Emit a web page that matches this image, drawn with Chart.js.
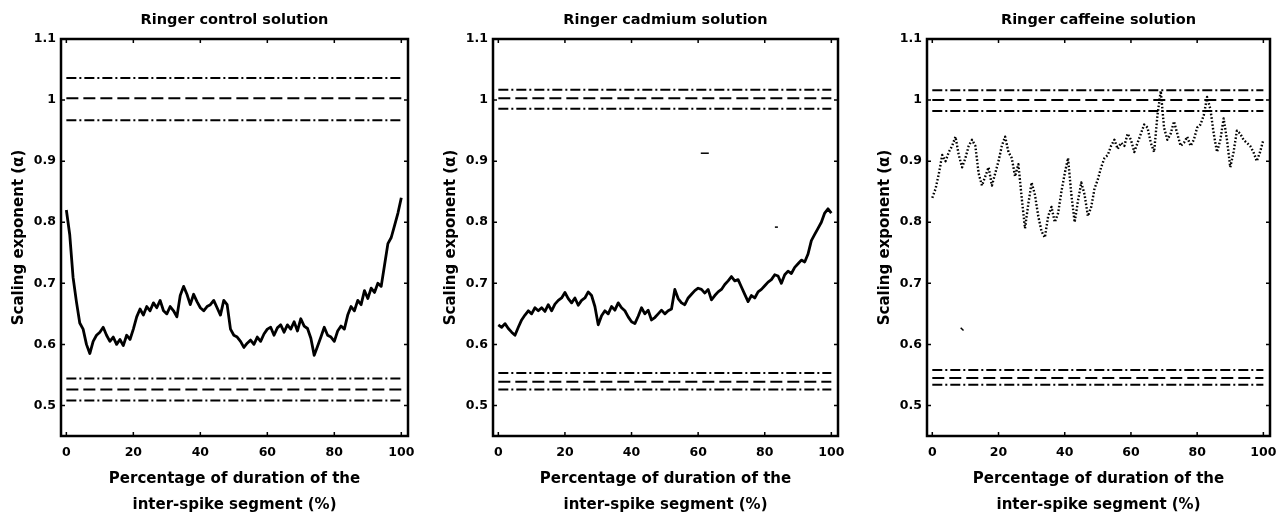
<!DOCTYPE html>
<html>
<head>
<meta charset="utf-8">
<title>Scaling exponent along the inter-spike segment</title>
<script src="https://cdn.jsdelivr.net/npm/chart.js@4.4.1/dist/chart.umd.min.js"></script>
<style>
  html, body { margin: 0; padding: 0; background: #fff; overflow: hidden; width: 1282px; height: 514px; }
  .panel { position: absolute; top: 0; }
</style>
</head>
<body>
<div class="panel" style="left:0px"><canvas id="c1" width="469" height="518"></canvas></div>
<div class="panel" style="left:432px"><canvas id="c2" width="467" height="518"></canvas></div>
<div class="panel" style="left:866px"><canvas id="c3" width="465" height="518"></canvas></div>
<script>
// axis ticks
var xTicks = [0, 20, 40, 60, 80, 100];
var yTicks = [0.5, 0.6, 0.7, 0.8, 0.9, 1.0, 1.1];
var yTickLabels = ['0.5', '0.6', '0.7', '0.8', '0.9', '1', '1.1'];

var titles = ['Ringer control solution', 'Ringer cadmium solution', 'Ringer caffeine solution'];
var xTitle = ['Percentage of duration of the', 'inter-spike segment (%)'];
var yTitle = 'Scaling exponent (\u03b1)';

// scaling exponent at 0,1,2,...,100 % of the segment
var controlAlpha = [
  0.82, 0.78, 0.71, 0.67, 0.635, 0.625, 0.60, 0.585, 0.605, 0.615,
  0.62, 0.628, 0.615, 0.605, 0.612, 0.60, 0.608, 0.598, 0.615, 0.608,
  0.625, 0.645, 0.658, 0.648, 0.662, 0.655, 0.668, 0.66, 0.672, 0.655,
  0.65, 0.662, 0.655, 0.645, 0.68, 0.695, 0.682, 0.665, 0.682, 0.67,
  0.66, 0.655, 0.662, 0.665, 0.672, 0.66, 0.648, 0.672, 0.665, 0.625,
  0.615, 0.612, 0.605, 0.595, 0.602, 0.607, 0.60, 0.612, 0.605, 0.617,
  0.625, 0.628, 0.615, 0.627, 0.632, 0.62, 0.632, 0.625, 0.637, 0.622,
  0.642, 0.63, 0.626, 0.61, 0.582, 0.597, 0.612, 0.628, 0.615, 0.612,
  0.605, 0.622, 0.63, 0.625, 0.648, 0.662, 0.655, 0.672, 0.665, 0.688,
  0.675, 0.692, 0.685, 0.70, 0.695, 0.73, 0.765, 0.775, 0.795, 0.815,
  0.84
];
var cadmiumAlpha = [
  0.632, 0.628, 0.634, 0.626, 0.62, 0.615, 0.628, 0.64, 0.648, 0.655,
  0.65, 0.66, 0.655, 0.66, 0.654, 0.665, 0.655, 0.666, 0.672, 0.676,
  0.685, 0.675, 0.668, 0.676, 0.664, 0.672, 0.676, 0.686, 0.68, 0.662,
  0.632, 0.647, 0.655, 0.65, 0.662, 0.656, 0.668, 0.66, 0.655, 0.645,
  0.637, 0.634, 0.646, 0.66, 0.65, 0.656, 0.64, 0.644, 0.65, 0.656,
  0.65, 0.655, 0.658, 0.69, 0.675, 0.668, 0.665, 0.676, 0.682, 0.688,
  0.692, 0.69, 0.684, 0.69, 0.673, 0.68, 0.686, 0.69, 0.698, 0.704,
  0.711, 0.704, 0.706, 0.694, 0.682, 0.67, 0.68, 0.676, 0.686, 0.69,
  0.696, 0.702, 0.706, 0.714, 0.712, 0.70, 0.714, 0.72, 0.716, 0.726,
  0.732, 0.738, 0.735, 0.748, 0.77, 0.78, 0.79, 0.80, 0.815, 0.822,
  0.815
];
var caffeineAlpha = [
  0.84, 0.855, 0.88, 0.91, 0.90, 0.915, 0.925, 0.94, 0.91, 0.89,
  0.905, 0.925, 0.935, 0.925, 0.88, 0.86, 0.875, 0.89, 0.86, 0.88,
  0.90, 0.925, 0.94, 0.915, 0.905, 0.875, 0.895, 0.84, 0.79, 0.83,
  0.865, 0.845, 0.81, 0.785, 0.775, 0.81, 0.825, 0.80, 0.815, 0.85,
  0.88, 0.905, 0.845, 0.80, 0.835, 0.865, 0.845, 0.81, 0.825, 0.855,
  0.87, 0.89, 0.905, 0.91, 0.925, 0.935, 0.92, 0.93, 0.925, 0.945,
  0.935, 0.915, 0.93, 0.945, 0.96, 0.955, 0.93, 0.915, 0.975, 1.015,
  0.955, 0.935, 0.945, 0.965, 0.945, 0.925, 0.93, 0.94, 0.925, 0.935,
  0.955, 0.96, 0.975, 1.005, 0.985, 0.945, 0.915, 0.935, 0.97, 0.935,
  0.89, 0.915, 0.95, 0.945, 0.935, 0.93, 0.925, 0.915, 0.90, 0.915,
  0.935
];

// reference bands: [upper bound, mean, lower bound]
var bandHigh = [[1.036, 1.003, 0.967], [1.017, 1.003, 0.986], [1.016, 1.0, 0.982]];
var bandLow = [[0.544, 0.526, 0.508], [0.553, 0.539, 0.526], [0.558, 0.545, 0.534]];

// small stray marks in the scan
var strayX = [[], [62, 83.5], [9]];
var strayY = [[], [0.913, 0.792], [0.625]];

(function () {
  var FONT = 'DejaVu Sans';
  var dashDot = [10, 3, 2, 3];
  var dashed = [12, 5];

  // MATLAB style box with inward ticks on all four sides
  var framePlugin = {
    id: 'frame',
    afterDatasetsDraw: function (chart) {
      var ctx = chart.ctx;
      var a = chart.chartArea;
      var xs = chart.scales.x;
      var ys = chart.scales.y;
      ctx.save();
      ctx.strokeStyle = '#000';
      ctx.lineWidth = 2.5;
      ctx.strokeRect(a.left, a.top, a.right - a.left, a.bottom - a.top);
      ctx.lineWidth = 1.5;
      ctx.beginPath();
      xs.ticks.forEach(function (t) {
        var px = xs.getPixelForValue(t.value);
        ctx.moveTo(px, a.bottom); ctx.lineTo(px, a.bottom - 4);
        ctx.moveTo(px, a.top); ctx.lineTo(px, a.top + 4);
      });
      ys.ticks.forEach(function (t) {
        var py = ys.getPixelForValue(t.value);
        ctx.moveTo(a.left, py); ctx.lineTo(a.left + 4, py);
        ctx.moveTo(a.right, py); ctx.lineTo(a.right - 4, py);
      });
      ctx.stroke();
      ctx.restore();
    }
  };

  function toPoints(values) {
    return values.map(function (v, i) { return { x: i, y: v }; });
  }

  function bandLine(v, dash) {
    return {
      data: [{ x: 0, y: v }, { x: 100, y: v }],
      borderColor: '#000',
      borderWidth: 2,
      borderDash: dash,
      pointRadius: 0
    };
  }

  function makeChart(id, k, values, dotted) {
    var datasets = [];
    [bandHigh[k], bandLow[k]].forEach(function (b) {
      datasets.push(bandLine(b[0], dashDot));
      datasets.push(bandLine(b[1], dashed));
      datasets.push(bandLine(b[2], dashDot));
    });
    datasets.push({
      data: toPoints(values),
      borderColor: '#000',
      borderWidth: dotted ? 2.4 : 2.8,
      borderDash: dotted ? [1.6, 2] : [],
      borderJoinStyle: 'round',
      pointRadius: 0,
      tension: 0
    });
    if (strayX[k].length) {
      datasets.push({
        type: 'scatter',
        data: strayX[k].map(function (x, i) { return { x: x, y: strayY[k][i] }; }),
        pointStyle: 'line',
        pointRadius: k == 1 ? [4, 1.5] : 2,
        pointRotation: k == 2 ? 45 : 0,
        borderColor: '#000',
        borderWidth: 1.5,
        showLine: false
      });
    }

    return new Chart(document.getElementById(id), {
      type: 'line',
      data: { datasets: datasets },
      plugins: [framePlugin],
      options: {
        responsive: false,
        animation: false,
        devicePixelRatio: 1,
        layout: { padding: 0 },
        plugins: {
          legend: { display: false },
          tooltip: { enabled: false },
          title: {
            display: true,
            text: titles[k],
            color: '#000',
            font: { family: FONT, size: 14.5, weight: 'bold', lineHeight: 1.2 },
            padding: { top: 12, bottom: 9.6 }
          }
        },
        scales: {
          x: {
            type: 'linear',
            min: -1.6,
            max: 102,
            afterBuildTicks: function (s) { s.ticks = xTicks.map(function (v) { return { value: v }; }); },
            afterFit: function (s) { s.height = 82; },
            grid: { display: false, drawTicks: false },
            border: { display: false },
            ticks: {
              color: '#000',
              padding: 9,
              maxRotation: 0,
              autoSkip: false,
              font: { family: FONT, size: 12.5, weight: 'bold' }
            },
            title: {
              display: true,
              text: xTitle,
              color: '#000',
              font: { family: FONT, size: 15, weight: 'bold', lineHeight: 26 / 15 },
              padding: { top: 0, bottom: 0 }
            }
          },
          y: {
            type: 'linear',
            min: 0.45,
            max: 1.1,
            afterBuildTicks: function (s) { s.ticks = yTicks.map(function (v) { return { value: v }; }); },
            afterFit: function (s) { s.width = 61; },
            grid: { display: false, drawTicks: false },
            border: { display: false },
            ticks: {
              color: '#000',
              padding: 5,
              autoSkip: false,
              font: { family: FONT, size: 12.5, weight: 'bold' },
              callback: function (v, i) { return yTickLabels[i]; }
            },
            title: {
              display: true,
              text: yTitle,
              color: '#000',
              font: { family: FONT, size: 15, weight: 'bold' },
              padding: { top: 10, bottom: 0 }
            }
          },
          // empty right-hand axis, same width as the left one, so the title centres over the plot
          yPad: {
            position: 'right',
            afterFit: function (s) { s.width = 61; },
            grid: { display: false, drawTicks: false },
            border: { display: false },
            ticks: { display: false }
          }
        }
      }
    });
  }

  makeChart('c1', 0, controlAlpha, false);
  makeChart('c2', 1, cadmiumAlpha, false);
  makeChart('c3', 2, caffeineAlpha, true);
})();
</script>
</body>
</html>
